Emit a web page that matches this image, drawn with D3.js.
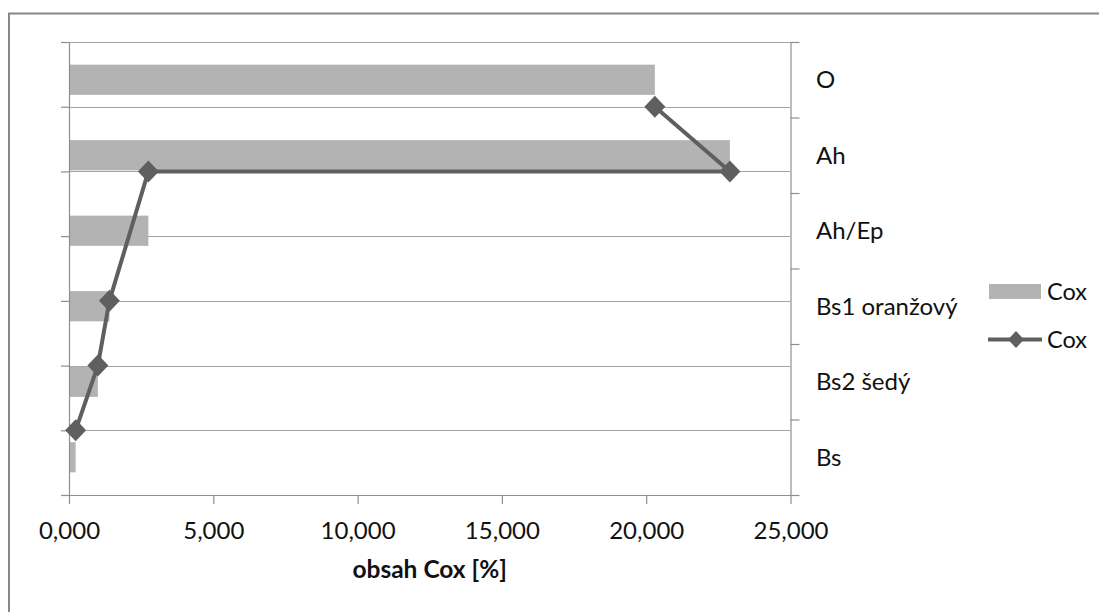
<!DOCTYPE html>
<html>
<head>
<meta charset="utf-8">
<script src="https://cdn.jsdelivr.net/npm/d3@7"></script>
<style>
  html, body { margin: 0; padding: 0; background: #fff; }
  svg { display: block; }
  text { font-family: Lato, "Open Sans", sans-serif; fill: #111; }
</style>
</head>
<body>
<svg id="chart" width="1099" height="612"></svg>
<script>
// Soil horizons (top to bottom) and their oxidisable carbon content Cox [%]
const categories = ["O", "Ah", "Ah/Ep", "Bs1 oranžový", "Bs2 šedý", "Bs"];
const coxValues = [20.3, 22.9, 2.75, 1.4, 1.0, 0.23];
// Position of each profile point on the secondary (left) axis, counted from the top
const lineLevels = [1, 2, 2, 4, 5, 6];
const levelCount = 7;
const xTicks = [0, 5, 10, 15, 20, 25];
const xTitle = "obsah Cox [%]";
const legendLabels = ["Cox", "Cox"];

const svg = d3.select("#chart");
const W = 1099, H = 612;
const plot = { left: 69, right: 790.5, top: 42, bottom: 495 };

const barColor = "#b3b3b3";
const lineColor = "#5f5f5f";
const gridColor = "#a3a3a3";
const axisColor = "#8f8f8f";

// Czech number format: decimal comma, three places
const cz = d3.formatLocale({ decimal: ",", thousands: "\u00a0", grouping: [3], currency: ["", " Kč"] });
const fmt = cz.format(".3f");

const x = d3.scaleLinear().domain([0, 25]).range([plot.left, plot.right]);
const yBand = d3.scaleBand().domain(categories).range([plot.top, plot.bottom])
  .paddingInner(0.6).paddingOuter(0.3);
const yLevel = d3.scaleLinear().domain([0, levelCount]).range([plot.top, plot.bottom]);
const yBoundary = d3.scaleLinear().domain([0, categories.length]).range([plot.top, plot.bottom]);

// Outer chart frame
svg.append("rect")
  .attr("x", 9).attr("y", 13.5).attr("width", W + 50).attr("height", H + 50)
  .attr("fill", "none").attr("stroke", "#878787").attr("stroke-width", 2);

// Horizontal gridlines from the left axis
svg.append("g").selectAll("line")
  .data(d3.range(levelCount + 1))
  .join("line")
  .attr("x1", plot.left).attr("x2", plot.right)
  .attr("y1", d => Math.round(yLevel(d)) + 0.5).attr("y2", d => Math.round(yLevel(d)) + 0.5)
  .attr("stroke", gridColor).attr("stroke-width", 1.2);

// Bars
svg.append("g").selectAll("rect")
  .data(categories)
  .join("rect")
  .attr("x", x(0))
  .attr("y", d => yBand(d))
  .attr("width", (d, i) => x(coxValues[i]) - x(0))
  .attr("height", yBand.bandwidth())
  .attr("fill", barColor);

function styleAxis(g) {
  g.select(".domain").attr("stroke", axisColor).attr("stroke-width", 1.2);
  g.selectAll(".tick line").attr("stroke", axisColor).attr("stroke-width", 1.2);
}

// Left axis (line series levels), unlabeled
svg.append("g")
  .attr("transform", `translate(${plot.left},0)`)
  .call(d3.axisLeft(yLevel).tickValues(d3.range(levelCount + 1)).tickSize(8).tickSizeOuter(0).tickFormat(""))
  .call(styleAxis);

// Right axis with category boundaries
svg.append("g")
  .attr("transform", `translate(${plot.right},0)`)
  .call(d3.axisRight(yBoundary).tickValues(d3.range(categories.length + 1)).tickSize(9).tickSizeOuter(0).tickFormat(""))
  .call(styleAxis);

// Category labels to the right of the plot
svg.append("g").selectAll("text")
  .data(categories)
  .join("text")
  .attr("x", 816)
  .attr("y", d => yBand(d) + yBand.bandwidth() / 2)
  .attr("dy", "0.36em")
  .attr("font-size", 24)
  .text(d => d);

// Bottom value axis
const xAxis = svg.append("g")
  .attr("transform", `translate(0,${plot.bottom})`)
  .call(d3.axisBottom(x).tickValues(xTicks).tickSize(9).tickSizeOuter(0).tickFormat(fmt))
  .call(styleAxis);
xAxis.selectAll(".tick text")
  .attr("font-size", 24)
  .attr("font-family", "Lato, sans-serif")
  .attr("fill", "#111")
  .attr("y", 0).attr("dy", 0)
  .attr("transform", "translate(0,43.5)");

svg.append("text")
  .attr("x", (plot.left + plot.right) / 2)
  .attr("y", 577.5)
  .attr("text-anchor", "middle")
  .attr("font-size", 24.5)
  .attr("font-weight", "bold")
  .text(xTitle);

// Profile line with diamond markers
const points = categories.map((c, i) => ({ v: coxValues[i], lvl: lineLevels[i] }));
const line = d3.line().x(d => x(d.v)).y(d => yLevel(d.lvl));
svg.append("path")
  .datum(points)
  .attr("d", line)
  .attr("fill", "none")
  .attr("stroke", lineColor)
  .attr("stroke-width", 4)
  .attr("stroke-linejoin", "round");

const diamond = (w, h) => `M0,${-h}L${w},0L0,${h}L${-w},0Z`;
svg.append("g").selectAll("path")
  .data(points)
  .join("path")
  .attr("transform", d => `translate(${x(d.v)},${yLevel(d.lvl)})`)
  .attr("d", diamond(10.5, 11))
  .attr("fill", lineColor);

// Legend
const legend = svg.append("g");
legend.append("rect")
  .attr("x", 989).attr("y", 284).attr("width", 52).attr("height", 15)
  .attr("fill", barColor);
legend.append("text")
  .attr("x", 1047).attr("y", 291.5).attr("dy", "0.36em")
  .attr("font-size", 23.5).text(legendLabels[0]);
legend.append("line")
  .attr("x1", 988).attr("x2", 1042).attr("y1", 339.5).attr("y2", 339.5)
  .attr("stroke", lineColor).attr("stroke-width", 4);
legend.append("path")
  .attr("transform", "translate(1016,339.5)")
  .attr("d", diamond(8, 8.5))
  .attr("fill", lineColor);
legend.append("text")
  .attr("x", 1047).attr("y", 339.5).attr("dy", "0.36em")
  .attr("font-size", 23.5).text(legendLabels[1]);
</script>
</body>
</html>
